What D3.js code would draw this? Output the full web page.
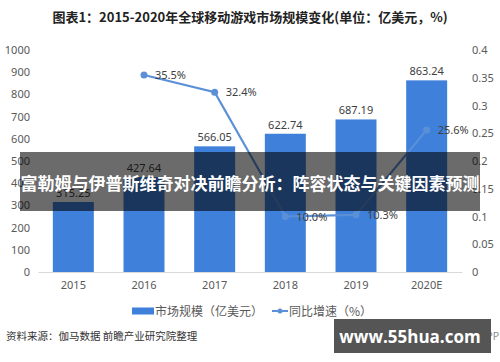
<!DOCTYPE html>
<html>
<head>
<meta charset="utf-8">
<script src="https://cdn.jsdelivr.net/npm/d3@7"></script>
<style>
  body { margin: 0; background: #fff; }
  text { font-family: "Noto Sans CJK SC", "Noto Sans", sans-serif; }
</style>
</head>
<body>
<div id="container"></div>
<script>
/* CONSTANTS AND GLOBALS */
const width = 500;
const height = 362;
const margin = ({top: 50, right: 38, bottom: 90, left: 38})

/* DATA */
const years = ["2015", "2016", "2017", "2018", "2019", "2020E"];
const marketSize = [315.25, 427.64, 566.05, 622.74, 687.19, 863.24];
const growthYears = ["2016", "2017", "2018", "2019", "2020E"];
const growthRate = [0.355, 0.324, 0.100, 0.103, 0.256];
const leftTicks = [0, 100, 200, 300, 400, 500, 600, 700, 800, 900, 1000];
const rightTicks = [0, 0.05, 0.1, 0.15, 0.2, 0.25, 0.3, 0.35, 0.4];

const barColor = "#3f80db";
const lineColor = "#5b90d8";

const svg = d3.select("#container")
  .append("svg")
  .attr("width", width)
  .attr("height", height);

/* SCALES */
const xScale = d3.scaleBand()
  .domain(years)
  .range([margin.left, width - margin.right])
  .paddingInner(0.42)
  .paddingOuter(0.21);

const yLeft = d3.scaleLinear([0, 1000], [272, 50]);
const yRight = d3.scaleLinear([0, 0.4], [272, 50]);

// title
svg.append("text")
  .attr("x", 250).attr("y", 22)
  .attr("text-anchor", "middle")
  .attr("font-size", 13).attr("font-weight", "bold")
  .attr("fill", "#222")
  .text("图表1：2015-2020年全球移动游戏市场规模变化(单位：亿美元，%)");

// left axis
const leftAxis = svg.append("g")
  .attr("transform", `translate(30,0)`)
  .call(d3.axisLeft(yLeft).tickValues(leftTicks).tickSize(0).tickPadding(0)
    .tickFormat(d => String(d)));
leftAxis.select(".domain").remove();
leftAxis.selectAll(".tick text").attr("font-size", 11).attr("fill", "#595959")
  .style("font-family", "\"Noto Sans\", sans-serif");

// right axis
const rightAxis = svg.append("g")
  .attr("transform", `translate(472,0)`)
  .call(d3.axisRight(yRight).tickValues(rightTicks).tickSize(0).tickPadding(0)
    .tickFormat(d => String(+d.toFixed(2))));
rightAxis.select(".domain").remove();
rightAxis.selectAll(".tick text").attr("font-size", 11).attr("fill", "#595959")
  .style("font-family", "\"Noto Sans\", sans-serif");

// bars
svg.selectAll("rect.bar")
  .data(years)
  .join("rect")
  .attr("class", "bar")
  .attr("x", d => xScale(d))
  .attr("width", xScale.bandwidth())
  .attr("y", (d, i) => yLeft(marketSize[i]))
  .attr("height", (d, i) => yLeft(0) - yLeft(marketSize[i]))
  .attr("fill", barColor);

// bar labels
svg.selectAll("text.barlabel")
  .data(years)
  .join("text")
  .attr("class", "barlabel")
  .attr("x", d => xScale(d) + xScale.bandwidth() / 2)
  .attr("y", (d, i) => yLeft(marketSize[i]) - 5)
  .attr("text-anchor", "middle")
  .attr("font-size", 11).attr("fill", "#404040")
  .style("font-family", "\"Noto Sans\", sans-serif")
  .text((d, i) => marketSize[i].toFixed(2));

// x axis
const xAxis = svg.append("g")
  .attr("transform", `translate(0,272)`)
  .call(d3.axisBottom(xScale).tickSize(0).tickPadding(9));
xAxis.select(".domain").attr("stroke", "#d9d9d9");
xAxis.selectAll(".tick text").attr("font-size", 11).attr("fill", "#595959")
  .style("font-family", "\"Noto Sans\", sans-serif");

// growth line
const cx = d => xScale(d) + xScale.bandwidth() / 2;
const line = d3.line()
  .x(d => cx(d))
  .y((d, i) => yRight(growthRate[i]));

svg.append("path")
  .datum(growthYears)
  .attr("d", line)
  .attr("fill", "none")
  .attr("stroke", lineColor)
  .attr("stroke-width", 2.2);

svg.selectAll("circle.pt")
  .data(growthYears)
  .join("circle")
  .attr("class", "pt")
  .attr("cx", d => cx(d))
  .attr("cy", (d, i) => yRight(growthRate[i]))
  .attr("r", 3.5)
  .attr("fill", lineColor);

svg.selectAll("text.ptlabel")
  .data(growthYears)
  .join("text")
  .attr("class", "ptlabel")
  .attr("x", d => cx(d) + 11)
  .attr("y", (d, i) => yRight(growthRate[i]) + 4)
  .attr("font-size", 11).attr("fill", "#404040")
  .style("font-family", "\"Noto Sans\", sans-serif")
  .text((d, i) => (growthRate[i] * 100).toFixed(1) + "%");

// legend
const legend = svg.append("g").attr("transform", "translate(0,311)");
legend.append("rect")
  .attr("x", 132).attr("y", -3.5).attr("width", 22).attr("height", 7)
  .attr("fill", barColor);
legend.append("text")
  .attr("x", 155).attr("y", 4.5)
  .attr("font-size", 12).attr("fill", "#595959")
  .text("市场规模（亿美元）");
legend.append("line")
  .attr("x1", 272).attr("x2", 288).attr("y1", 0).attr("y2", 0)
  .attr("stroke", lineColor).attr("stroke-width", 2);
legend.append("circle")
  .attr("cx", 280).attr("cy", 0).attr("r", 2.5).attr("fill", lineColor);
legend.append("text")
  .attr("x", 289).attr("y", 4.5)
  .attr("font-size", 12).attr("fill", "#595959")
  .text("同比增速（%）");

// source
svg.append("text")
  .attr("x", 6).attr("y", 340)
  .attr("font-size", 10.5).attr("fill", "#333")
  .text("资料来源：伽马数据 前瞻产业研究院整理");

svg.append("text")
  .attr("x", 499).attr("y", 340)
  .attr("text-anchor", "end")
  .attr("font-size", 10).attr("fill", "#888")
  .text("前瞻经济学人APP");

// overlay banner
svg.append("rect")
  .attr("x", 20).attr("y", 152).attr("width", 460).attr("height", 59)
  .attr("fill", "rgba(0,0,0,0.58)");
svg.append("text")
  .attr("x", 250).attr("y", 190)
  .attr("text-anchor", "middle")
  .attr("font-size", 17).attr("font-weight", "bold")
  .attr("fill", "#fff")
  .text("富勒姆与伊普斯维奇对决前瞻分析：阵容状态与关键因素预测");

// watermark box
svg.append("rect")
  .attr("x", 334).attr("y", 319).attr("width", 157).attr("height", 34)
  .attr("fill", "#555");
svg.append("text")
  .attr("x", 410).attr("y", 343)
  .attr("text-anchor", "middle")
  .attr("font-size", 17).attr("font-weight", "bold")
  .attr("fill", "#fff")
  .style("font-family", "\"Open Sans\", \"Noto Sans\", sans-serif")
  .text("www.55hua.com");
</script>
</body>
</html>
